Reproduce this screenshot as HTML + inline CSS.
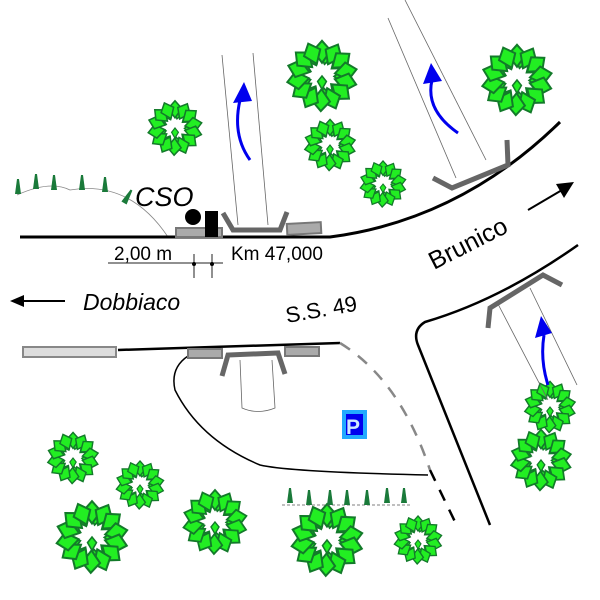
<!DOCTYPE html>
<html><head><meta charset="utf-8"><style>
html,body{margin:0;padding:0;background:#fff;width:600px;height:600px;overflow:hidden}
svg text{font-family:"Liberation Sans",sans-serif}
</style></head><body>
<svg width="600" height="600" viewBox="0 0 600 600" xmlns="http://www.w3.org/2000/svg">
<defs>
<path id="lf" d="M0,-32 L8,-23 L0,-12 L-8,-23 Z" fill="#22ee22" stroke="#137a2a" stroke-width="1.8"/>
<path id="lf2" d="M0,-25 L6,-19 L0,-11 L-6,-19 Z" fill="#22ee22" stroke="#137a2a" stroke-width="1.6"/>
<g id="tree">
<use href="#lf2" transform="rotate(12)"/><use href="#lf2" transform="rotate(52)"/><use href="#lf2" transform="rotate(92)"/><use href="#lf2" transform="rotate(132)"/><use href="#lf2" transform="rotate(172)"/><use href="#lf2" transform="rotate(212)"/><use href="#lf2" transform="rotate(252)"/><use href="#lf2" transform="rotate(292)"/><use href="#lf2" transform="rotate(332)"/>
<use href="#lf" transform="rotate(0)"/><use href="#lf" transform="rotate(27)"/><use href="#lf" transform="rotate(51)"/><use href="#lf" transform="rotate(79)"/><use href="#lf" transform="rotate(104)"/><use href="#lf" transform="rotate(130)"/><use href="#lf" transform="rotate(157)"/><use href="#lf" transform="rotate(182)"/><use href="#lf" transform="rotate(208)"/><use href="#lf" transform="rotate(235)"/><use href="#lf" transform="rotate(260)"/><use href="#lf" transform="rotate(287)"/><use href="#lf" transform="rotate(312)"/><use href="#lf" transform="rotate(337)"/>
<path d="M0,0 L4,5 L0,12 L-4,5 Z" fill="#22ee22" stroke="#137a2a" stroke-width="1.4"/>
</g>
<path id="cone" d="M-3,0 L-1,-15 L1,-15 L3,0 Z" fill="#1a7a3a"/>
</defs>

<use href="#tree" transform="translate(175,128) scale(0.85)"/>
<use href="#tree" transform="translate(322,76) scale(1.1)"/>
<use href="#tree" transform="translate(330,145) scale(0.8)"/>
<use href="#tree" transform="translate(383,184) scale(0.72)"/>
<use href="#tree" transform="translate(517,80) scale(1.1)"/>
<use href="#tree" transform="translate(550,407) scale(0.8)"/>
<use href="#tree" transform="translate(541,460) scale(0.95)"/>
<use href="#tree" transform="translate(73,458) scale(0.8)"/>
<use href="#tree" transform="translate(140,485) scale(0.75)"/>
<use href="#tree" transform="translate(215,522) scale(1.0)"/>
<use href="#tree" transform="translate(92,537) scale(1.12)"/>
<use href="#tree" transform="translate(327,540) scale(1.12)"/>
<use href="#tree" transform="translate(418,540) scale(0.75)"/>

<path d="M17,195 Q50,180 70,190 Q130,180 168,237" fill="none" stroke="#888" stroke-width="0.8"/>
<use href="#cone" x="18" y="194"/><use href="#cone" x="36" y="189"/><use href="#cone" x="54" y="190"/><use href="#cone" x="82" y="190"/><use href="#cone" x="105" y="192"/><use href="#cone" x="124" y="203" transform="rotate(30 124 203)"/>

<path d="M282,505 L410,505" stroke="#555" stroke-width="0.8" stroke-dasharray="3,2"/>
<use href="#cone" x="290" y="503"/><use href="#cone" x="309" y="505"/><use href="#cone" x="330" y="505"/><use href="#cone" x="347" y="505"/><use href="#cone" x="367" y="505"/><use href="#cone" x="387" y="503"/><use href="#cone" x="404" y="503"/>

<path d="M222,55 L238,225" stroke="#666" stroke-width="0.8" fill="none"/>
<path d="M253,53 L268,225" stroke="#666" stroke-width="0.8" fill="none"/>
<path d="M388,18 L456,178" stroke="#666" stroke-width="0.8" fill="none"/>
<path d="M405,0 L486,160" stroke="#666" stroke-width="0.8" fill="none"/>
<path d="M498,304 L548,400" stroke="#666" stroke-width="0.8" fill="none"/>
<path d="M530,288 L577,385" stroke="#666" stroke-width="0.8" fill="none"/>
<path d="M240,360 L242,408 Q258,415 275,408 L272,360" stroke="#666" stroke-width="0.8" fill="none"/>

<path d="M250,160 Q232,135 240,100" stroke="#0000ee" stroke-width="3" fill="none"/>
<path d="M244,82 L233,103 L252,101 Z" fill="#0000ee"/>
<path d="M458,133 Q425,110 432,80" stroke="#0000ee" stroke-width="3" fill="none"/>
<path d="M431,63 L423,84 L442,81 Z" fill="#0000ee"/>
<path d="M548,385 Q540,360 544,335" stroke="#0000ee" stroke-width="3" fill="none"/>
<path d="M541,316 L535,338 L552,333 Z" fill="#0000ee"/>

<path d="M20,237 L330,237 Q460,220 560,122" stroke="#000" stroke-width="3" fill="none"/>
<path d="M118,350 L340,343" stroke="#000" stroke-width="2.5" fill="none"/>
<path d="M340,343 Q400,380 430,470" stroke="#888" stroke-width="2.5" stroke-dasharray="12,10" fill="none"/>
<path d="M430,470 L458,528" stroke="#000" stroke-width="2.5" stroke-dasharray="12,10" fill="none"/>
<path d="M578,245 Q500,300 425,322 Q412,330 418,345 L490,525" stroke="#000" stroke-width="2.5" fill="none"/>
<path d="M188,356 Q170,368 175,390 Q200,440 260,465 Q290,472 428,475" stroke="#000" stroke-width="1.5" fill="none"/>

<rect x="23" y="347" width="93" height="10" fill="#ddd" stroke="#888" stroke-width="2"/>
<rect x="188" y="349" width="34" height="9" fill="#aaa" stroke="#777" stroke-width="2"/>
<rect x="285" y="347" width="34" height="9" fill="#aaa" stroke="#777" stroke-width="2"/>
<path d="M222,376 L228,355 L278,353 L285,374" stroke="#666" stroke-width="5" fill="none"/>
<rect x="176" y="228" width="46" height="9" fill="#aaa" stroke="#777" stroke-width="2"/>
<rect x="287" y="223" width="34" height="11" fill="#aaa" stroke="#777" stroke-width="2" transform="rotate(-3 304 228)"/>
<path d="M223,213 L233,230 L280,230 L287,212" stroke="#666" stroke-width="5" fill="none"/>
<path d="M433,178 L452,188 L508,165 L507,140" stroke="#666" stroke-width="5" fill="none"/>
<path d="M488,328 L490,308 L543,275 L562,285" stroke="#666" stroke-width="5" fill="none"/>

<circle cx="193" cy="217" r="8" fill="#000"/>
<rect x="205" y="211" width="13" height="26" fill="#000"/>
<text x="135" y="206" font-size="27" font-style="italic">CSO</text>

<path d="M108,263 L223,263 M194,254 L194,278 M212,254 L212,278" stroke="#222" stroke-width="1" fill="none"/>
<circle cx="194" cy="264" r="2" fill="#000"/><circle cx="212" cy="264" r="2" fill="#000"/>
<text x="114" y="260" font-size="19">2,00 m</text>
<text x="231" y="260" font-size="19">Km 47,000</text>

<path d="M65,301 L22,301" stroke="#000" stroke-width="2"/>
<path d="M10,301 L24,295 L24,307 Z" fill="#000"/>
<text x="83" y="310" font-size="23" font-style="italic">Dobbiaco</text>
<text x="287" y="323" font-size="22" transform="rotate(-10 287 323)">S.S. 49</text>
<text x="434" y="270" font-size="25" transform="rotate(-27 434 270)">Brunico</text>
<path d="M528,210 L562,190" stroke="#000" stroke-width="2"/>
<path d="M574,182 L556,184 L564,198 Z" fill="#000"/>

<rect x="342" y="410" width="25" height="29" fill="#22aaff"/>
<rect x="346" y="414" width="17" height="21" fill="#0000ee"/>
<text x="346" y="434" font-size="21" font-weight="bold" fill="#cfe8ff">P</text>
</svg>
</body></html>
